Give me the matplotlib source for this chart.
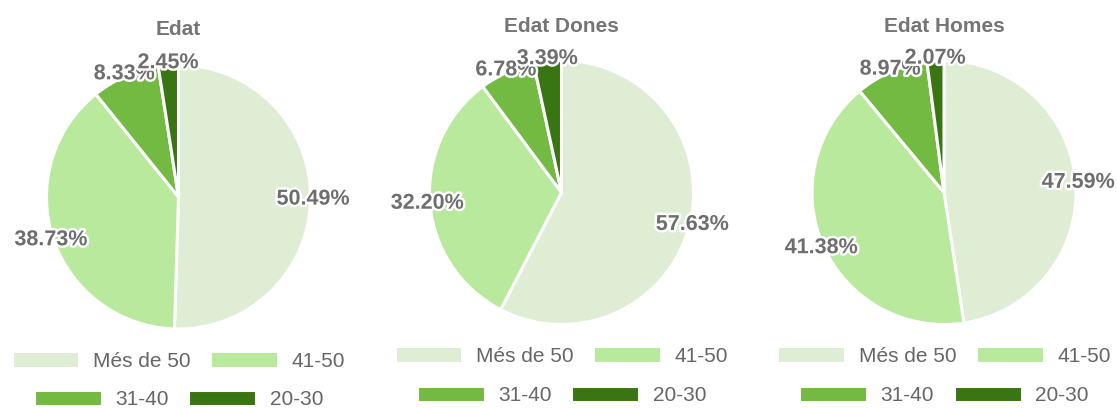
import numpy as np
import matplotlib.pyplot as plt
import matplotlib.patheffects as pe

# ---- data ----
categories = ["Més de 50", "41-50", "31-40", "20-30"]
titles = ["Edat", "Edat Dones", "Edat Homes"]
edat = [50.49, 38.73, 8.33, 2.45]
edat_dones = [57.63, 32.20, 6.78, 3.39]
edat_homes = [47.59, 41.38, 8.97, 2.07]
series = [edat, edat_dones, edat_homes]
colors = ["#deedd4", "#b8e99c", "#73ba42", "#3a7514"]

# ---- layout (pixels) ----
W, H = 1117, 408
centres = [(178.5, 197), (561.5, 192.5), (944, 192.5)]
R = 132
title_base = [35, 32, 32]
legend_rows = [(361, 399.5), (356, 395.5), (356, 395.5)]

plt.rcParams["font.family"] = ["Liberation Sans", "DejaVu Sans"]
fig = plt.figure(figsize=(W / 100, H / 100), dpi=100)

txt_col = "#6e6e6e"
stroke = [pe.Stroke(linewidth=3.5, foreground="white"), pe.Normal()]

for i, vals in enumerate(series):
    cx, cy = centres[i]
    ax = fig.add_axes([(cx - R) / W, 1 - (cy + R) / H, 2 * R / W, 2 * R / H])
    total = sum(vals)
    wedges, _, autotexts = ax.pie(
        vals, colors=colors, startangle=90, counterclock=False,
        autopct=lambda p, t=total: f"{p * t / 100:.2f}%",
        pctdistance=1.02,
        wedgeprops=dict(edgecolor="white", linewidth=2.2),
    )
    for t in autotexts:
        t.set_fontsize(15.5)
        t.set_fontweight("bold")
        t.set_color(txt_col)
        t.set_path_effects(stroke)
    ax.set_xlim(-1, 1)
    ax.set_ylim(-1, 1)
    ax.axis("off")

    fig.text(cx / W, 1 - title_base[i] / H, titles[i], ha="center",
             va="baseline", fontsize=15, fontweight="bold", color="#757575")

    # legend: two centred rows
    for r, (a, b) in enumerate([(0, 1), (2, 3)]):
        fig.legend([wedges[a], wedges[b]], [categories[a], categories[b]],
                   ncol=2, loc="center",
                   bbox_to_anchor=(cx / W, 1 - legend_rows[i][r] / H),
                   frameon=False, fontsize=15, labelcolor="#666666",
                   handlelength=3.25, handleheight=0.82, handletextpad=0.65,
                   columnspacing=0.95, borderpad=0, borderaxespad=0)

fig.savefig("out.png", dpi=100)
